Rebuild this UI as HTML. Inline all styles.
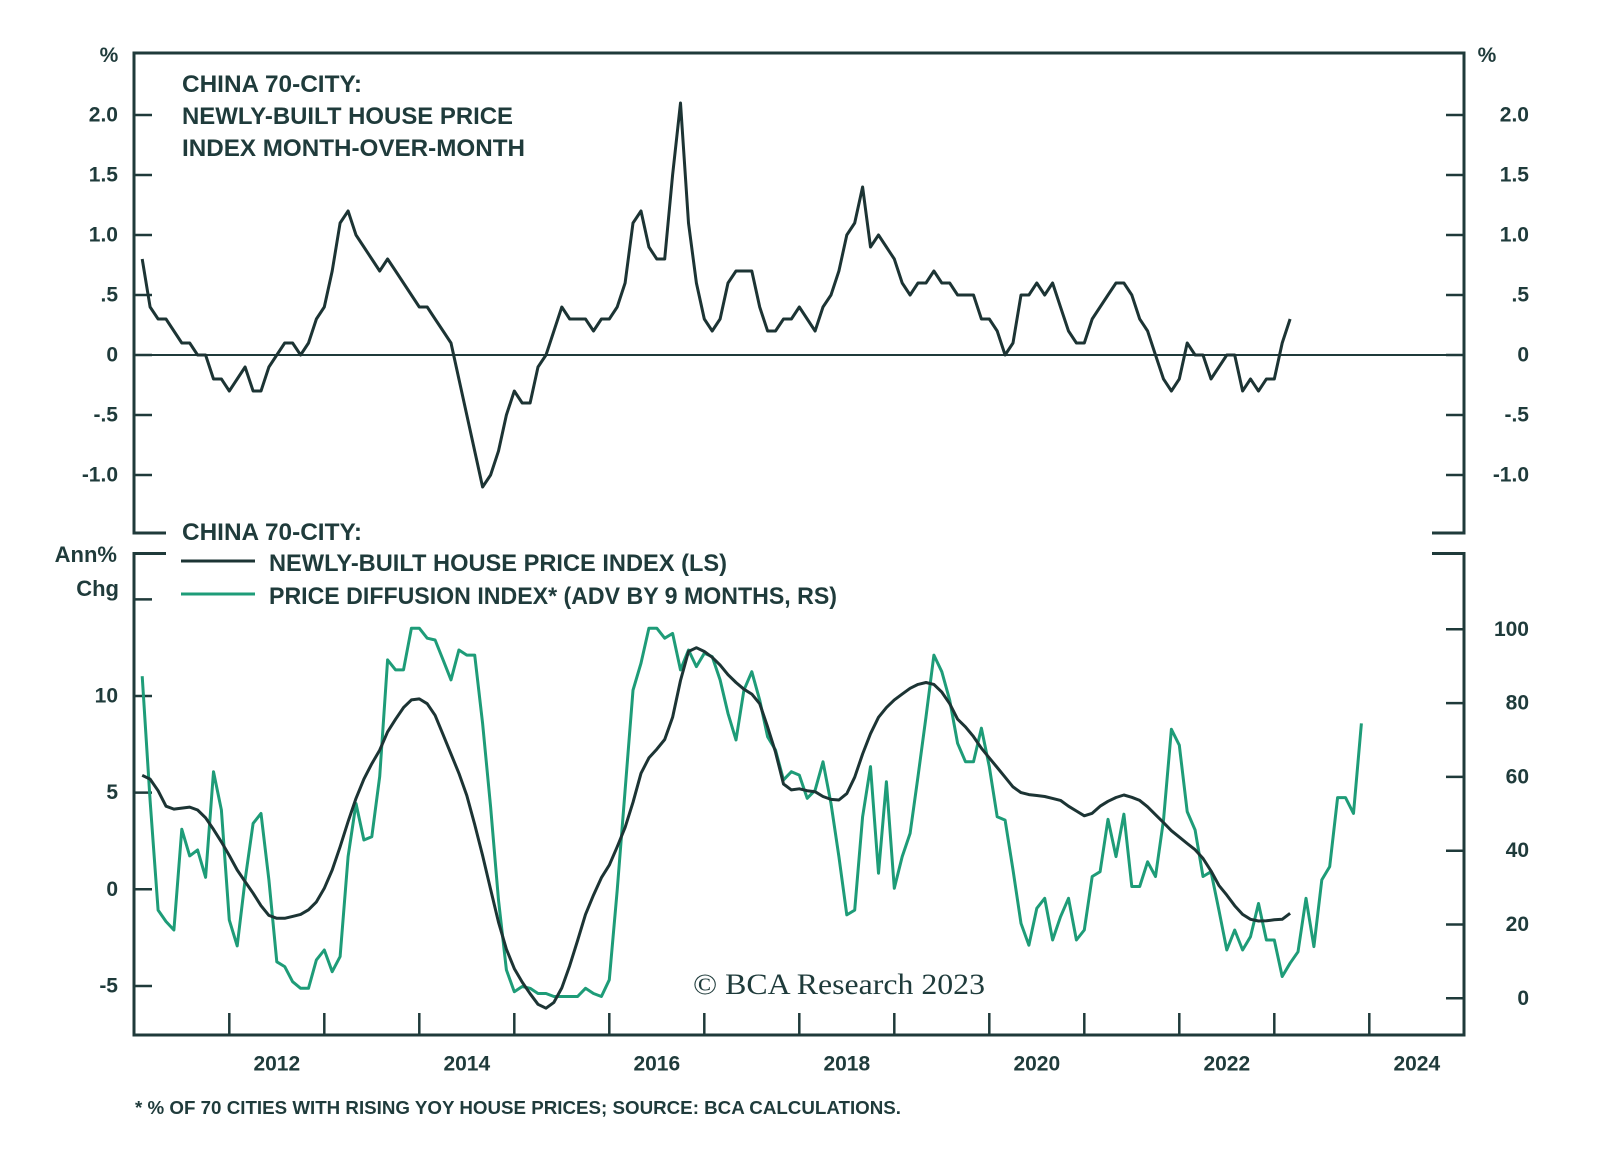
<!DOCTYPE html>
<html><head><meta charset="utf-8"><style>
html,body{margin:0;padding:0;background:#fff;}
svg{display:block;}
text{font-family:"Liberation Sans",sans-serif;fill:#1f3b3b;}
</style></head><body>
<svg id="chart" width="1600" height="1163" viewBox="0 0 1600 1163" xmlns="http://www.w3.org/2000/svg">
<g id="frame"></g>
<g id="marks"></g>
<g id="labels">
<text x="182" y="92" font-size="24" font-weight="bold" textLength="180" lengthAdjust="spacingAndGlyphs">CHINA 70-CITY:</text>
<text x="182" y="124" font-size="24" font-weight="bold" textLength="331" lengthAdjust="spacingAndGlyphs">NEWLY-BUILT HOUSE PRICE</text>
<text x="182" y="156" font-size="24" font-weight="bold" textLength="343" lengthAdjust="spacingAndGlyphs">INDEX MONTH-OVER-MONTH</text>
<text x="182" y="540" font-size="24" font-weight="bold" textLength="180" lengthAdjust="spacingAndGlyphs">CHINA 70-CITY:</text>
<line x1="181" y1="561" x2="255" y2="561" stroke="#1c3434" stroke-width="3"/>
<text x="269" y="571" font-size="24" font-weight="bold" textLength="458" lengthAdjust="spacingAndGlyphs">NEWLY-BUILT HOUSE PRICE INDEX (LS)</text>
<line x1="181" y1="594" x2="255" y2="594" stroke="#1e9c78" stroke-width="3"/>
<text x="269" y="604" font-size="24" font-weight="bold" textLength="568" lengthAdjust="spacingAndGlyphs">PRICE DIFFUSION INDEX* (ADV BY 9 MONTHS, RS)</text>
<text x="109" y="62" font-size="21" font-weight="bold" text-anchor="middle">%</text>
<text x="1487" y="62" font-size="21" font-weight="bold" text-anchor="middle">%</text>
<text x="117" y="562" font-size="22" font-weight="bold" text-anchor="end">Ann%</text>
<text x="119" y="596" font-size="22" font-weight="bold" text-anchor="end">Chg</text>
<text x="693" y="994" font-size="30" font-family="Liberation Serif, serif" textLength="292" lengthAdjust="spacingAndGlyphs" style="font-family:'Liberation Serif',serif">© BCA Research 2023</text>
<text x="135" y="1114" font-size="18" font-weight="bold" textLength="766" lengthAdjust="spacingAndGlyphs">* % OF 70 CITIES WITH RISING YOY HOUSE PRICES; SOURCE: BCA CALCULATIONS.</text>
</g>
</svg>
<script>
// ---- data (monthly, first point Feb 2011) ----
const startYear = 2011;
const startMonth = 2;
const momValues = [0.8,0.4,0.3,0.3,0.2,0.1,0.1,0,0,-0.2,-0.2,-0.3,-0.2,-0.1,-0.3,-0.3,-0.1,0,0.1,0.1,0,0.1,0.3,0.4,0.7,1.1,1.2,1.0,0.9,0.8,0.7,0.8,0.7,0.6,0.5,0.4,0.4,0.3,0.2,0.1,-0.2,-0.5,-0.8,-1.1,-1.0,-0.8,-0.5,-0.3,-0.4,-0.4,-0.1,0,0.2,0.4,0.3,0.3,
0.3,0.2,0.3,0.3,0.4,0.6,1.1,1.2,0.9,0.8,0.8,1.5,2.1,1.1,0.6,0.3,0.2,0.3,0.6,0.7,0.7,0.7,0.4,0.2,0.2,0.3,0.3,0.4,0.3,0.2,0.4,0.5,0.7,1.0,1.1,1.4,0.9,1.0,0.9,0.8,0.6,0.5,0.6,0.6,0.7,0.6,0.6,0.5,0.5,0.5,0.3,0.3,0.2,
0,0.1,0.5,0.5,0.6,0.5,0.6,0.4,0.2,0.1,0.1,0.3,0.4,0.5,0.6,0.6,0.5,0.3,0.2,0,-0.2,-0.3,-0.2,0.1,0,0,-0.2,-0.1,0,0,-0.3,-0.2,-0.3,-0.2,-0.2,0.1,0.3];
const yoyValues = [5.9,5.7,5.1,4.3,4.15,4.2,4.25,4.1,3.7,3.1,2.45,1.75,1.0,0.4,-0.2,-0.85,-1.35,-1.5,-1.5,-1.4,-1.3,-1.06,-0.65,0.05,1.0,2.2,3.5,4.7,5.7,6.5,7.2,8.15,8.8,9.4,9.8,9.85,9.6,9.0,8.0,7.0,6.0,4.85,3.35,1.75,0.0,-1.7,-3.1,-4.1,-4.8,-5.4,-5.95,-6.15,-5.85,-5.1,-3.95,-2.65,-1.3,-0.3,0.6,1.25,
2.2,3.2,4.5,6.0,6.8,7.25,7.75,8.9,10.8,12.3,12.5,12.3,12.0,11.6,11.1,10.7,10.35,10.1,9.6,8.4,7.1,5.45,5.14,5.2,5.1,5.05,4.8,4.65,4.62,4.95,5.8,7.0,8.05,8.9,9.4,9.8,10.1,10.4,10.6,10.7,10.6,10.2,9.6,8.8,8.4,7.9,7.3,6.8,6.3,5.8,5.3,5.0,4.9,4.85,4.8,4.7,
4.6,4.3,4.05,3.8,3.93,4.3,4.55,4.75,4.88,4.76,4.6,4.27,3.86,3.45,3.03,2.7,2.37,2.05,1.6,0.95,0.2,-0.3,-0.85,-1.3,-1.55,-1.64,-1.63,-1.58,-1.55,-1.24];
const diffusionValues = [87.3,53.6,23.9,20.8,18.5,45.8,38.6,40.2,32.8,61.4,51.0,21.2,14.2,32.1,47.4,50.1,32.1,9.9,8.6,4.5,2.7,2.7,10.4,13.1,7.2,11.3,38.4,52.8,42.9,43.8,60.1,91.7,89.0,89.0,100.3,100.3,97.6,97.1,91.7,86.3,94.4,93.0,93.0,74.5,51.9,26.6,7.7,1.8,3.2,2.7,1.3,1.3,0.5,0.5,0.5,0.5,2.7,1.3,0.5,5.0,
29.3,56.4,83.5,90.8,100.3,100.3,97.6,98.9,89.0,94.4,89.9,93.5,92.6,86.3,77.2,70.0,83.5,88.5,80.8,70.9,67.3,59.2,61.4,60.5,54.2,56.4,64.1,52.8,38.4,22.6,23.9,49.2,62.8,33.9,58.7,29.8,38.4,44.7,60.1,76.3,93.0,88.5,80.8,69.1,64.1,64.1,73.2,62.8,49.2,48.3,34.8,20.3,14.4,24.4,27.1,15.8,22.1,27.1,
15.8,18.5,33.0,34.3,48.5,38.4,49.9,30.3,30.3,37.0,33.0,48.3,72.9,68.6,50.6,45.6,33.0,34.3,23.9,13.1,18.5,13.1,16.7,25.7,15.8,15.8,5.9,9.5,12.6,27.1,14.0,32.1,35.7,54.4,54.4,50.1,74.5];
const yearTicks = [2012,2013,2014,2015,2016,2017,2018,2019,2020,2021,2022,2023,2024];
const yearLabels = [2012,2014,2016,2018,2020,2022,2024];
const topTicks = [2.0,1.5,1.0,0.5,0,-0.5,-1.0];
const topTickLabels = ["2.0","1.5","1.0",".5","0","-.5","-1.0"];
const leftTicks = [15,10,5,0,-5];
const leftTickLabels = ["","10","5","0","-5"];
const rightTicks = [100,80,60,40,20,0];
const rightTickLabels = ["100","80","60","40","20","0"];

// ---- axes ----
const X0 = 134.3, PX_YEAR = 95, XL = 134, XR = 1464;
function xOfTime(t){ return X0 + PX_YEAR*(t-2011); }
function xOfIndex(i){ return xOfTime(startYear + (startMonth-1+i)/12); }
function yTop(v){ return 355 - 120*v; }
function yLeft(v){ return 889.3 - 19.33*v; }
function yRight(v){ return 998.3 - 3.69*v; }

const NS = "http://www.w3.org/2000/svg";
const frame = document.getElementById('frame');
const marks = document.getElementById('marks');
const DARK = "#1c3434", GREEN = "#1e9c78", AX = "#1f3a3a";
function mk(tag, attrs, parent){
  const e = document.createElementNS(NS, tag);
  for (const k in attrs) e.setAttribute(k, attrs[k]);
  parent.appendChild(e);
  return e;
}
function line(x1,y1,x2,y2,w,name,parent){
  const l = mk('line',{x1:x1,y1:y1,x2:x2,y2:y2,stroke:AX,'stroke-width':w},parent||frame);
  
  
  return l;
}
function label(x,y,txt,anchor,name){
  const t = mk('text',{x:x,y:y,'font-size':21,'font-weight':'bold','text-anchor':anchor,'dominant-baseline':'central'},frame);
  t.textContent = txt;
  
  
}

// frame lines
line(XL,53,XR,53,3,'top-panel-top-border');
line(XL,51.5,XL,533,3,'top-left-axis');
line(XR,51.5,XR,533,3,'top-right-axis');
line(XL-1.5,533,166,533,3,'top-panel-bottom-stub-left');
line(1432,533,XR+1.5,533,3,'top-panel-bottom-stub-right');
line(XL-1.5,553.5,166,553.5,3,'bottom-panel-top-stub-left');
line(1432,553.5,XR+1.5,553.5,3,'bottom-panel-top-stub-right');
line(XL,553.5,XL,1036,3,'bottom-left-axis');
line(XR,553.5,XR,1036,3,'bottom-right-axis');
line(XL-1.5,1035,XR+1.5,1035,3,'x-axis');
line(XL,yTop(0),XR,yTop(0),2,'zero-line');

topTicks.forEach((v,i)=>{
  const y = yTop(v);
  line(XL,y,XL+18,y,2.5,'top-left-tick');
  line(XR-18,y,XR,y,2.5,'top-right-tick');
  label(118,y,topTickLabels[i],'end','top-left-tick-label');
  label(1529,y,topTickLabels[i],'end','top-right-tick-label');
});
leftTicks.forEach((v,i)=>{
  const y = yLeft(v);
  line(XL,y,XL+18,y,2.5,'bottom-left-tick');
  if (leftTickLabels[i]) label(118,y,leftTickLabels[i],'end','bottom-left-tick-label');
});
rightTicks.forEach((v,i)=>{
  const y = yRight(v);
  line(XR-18,y,XR,y,2.5,'bottom-right-tick');
  label(1529,y,rightTickLabels[i],'end','bottom-right-tick-label');
});
yearTicks.forEach(yr=>{
  const x = xOfTime(yr);
  line(x,1013,x,1035,2.5,'x-tick');
});
yearLabels.forEach(yr=>{
  const x = xOfTime(yr+0.5);
  const t = mk('text',{x:x,y:1064,'font-size':21,'font-weight':'bold','text-anchor':'middle','dominant-baseline':'central'},frame);
  t.textContent = String(yr);
  
  
});

// series
function pathFor(vals, yf){
  return vals.map((v,i)=>(i?'L':'M')+xOfIndex(i).toFixed(1)+','+yf(v).toFixed(1)).join(' ');
}
const p1 = mk('path',{d:pathFor(momValues,yTop),fill:'none',stroke:DARK,'stroke-width':3,'stroke-linejoin':'round'},marks);


const p3 = mk('path',{d:pathFor(diffusionValues,yRight),fill:'none',stroke:GREEN,'stroke-width':3,'stroke-linejoin':'round'},marks);


const p2 = mk('path',{d:pathFor(yoyValues,yLeft),fill:'none',stroke:DARK,'stroke-width':3,'stroke-linejoin':'round'},marks);


</script>
</body></html>
